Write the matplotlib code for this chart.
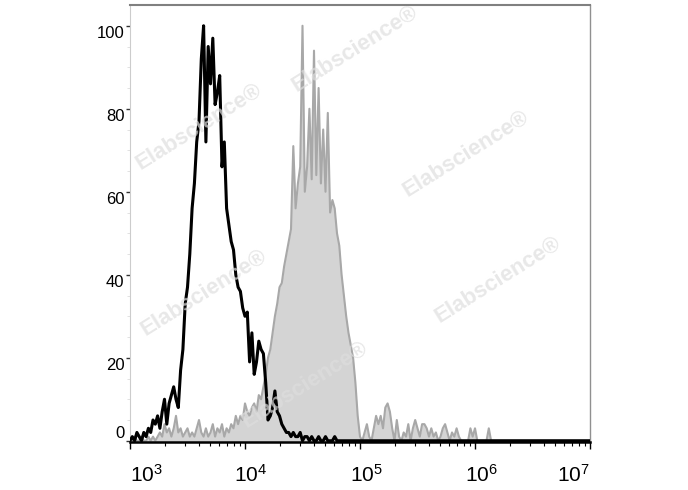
import matplotlib
matplotlib.use("Agg")
import matplotlib.pyplot as plt
import matplotlib.transforms as mtransforms
from matplotlib.ticker import FixedLocator, NullFormatter
import numpy as np

plt.rcParams['font.family'] = ['Liberation Sans', 'DejaVu Sans']
plt.rcParams['mathtext.default'] = 'regular'

# channel bins: log10 position of first bin and width of a bin (decades)
log_start = 3.0
log_step = 0.02
n_bins = 201

# isotype control (black line), counts normalised to mode = 100
black = [0, 1, 0, 2, 1, 0, 2, 1, 3, 2,
         5, 4, 6, 3, 7, 10, 4, 9, 11, 13,
         10, 8, 17, 22, 33, 37, 45, 56, 62, 72,
         77, 92, 100, 72, 95, 86, 97, 81, 84, 88,
         66, 72, 56, 52, 48, 46, 40, 37, 36, 32,
         30, 31, 19, 26, 16, 19, 24, 22, 21, 14,
         5, 6, 8, 12, 7, 6, 4, 3, 2, 2,
         1, 2, 1, 1, 2, 0, 1, 1, 0, 1,
         0, 0, 1, 0, 0, 1, 0, 0, 0, 1, 0]

# stained sample (grey filled)
grey = [0, 0, 1, 0, 0, 1, 0, 0, 1, 0,
        1, 0, 1, 2, 1, 4, 2, 3, 1, 3,
        6, 2, 3, 1, 2, 3, 1, 2, 1, 3,
        5, 2, 1, 3, 1, 2, 4, 1, 3, 2,
        4, 1, 3, 2, 4, 3, 6, 4, 6, 5,
        9, 7, 6, 8, 9, 7, 11, 10, 13, 16,
        20, 22, 26, 30, 33, 37, 38, 42, 45, 48,
        51, 71, 56, 62, 66, 100, 60, 66, 80, 63,
        94, 64, 85, 62, 75, 60, 79, 55, 58, 56,
        50, 47, 40, 35, 30, 26, 23, 20, 14, 6,
        1, 0, 2, 4, 1, 0, 3, 6, 4, 6,
        3, 8, 9, 7, 3, 0, 5, 1, 0, 2,
        1, 4, 0, 3, 5, 3, 1, 4, 4, 3,
        1, 3, 1, 2, 0, 1, 3, 4, 2, 0,
        2, 1, 3, 1, 0, 0, 0, 0, 3, 1,
        3, 0, 0, 0, 0, 0, 3, 0]

xtick_vals = [1e3, 1e4, 1e5, 1e6, 1e7]
xtick_labels = ['$10^{3}$', '$10^{4}$', '$10^{5}$', '$10^{6}$', '$10^{7}$']
ytick_vals = [0, 20, 40, 60, 80, 100]

# watermark positions (axes fraction)
wm_pos = [(0.49, 0.90), (0.15, 0.72), (0.73, 0.66), (0.16, 0.34), (0.80, 0.37), (0.38, 0.13)]

black_full = np.zeros(n_bins)
black_full[:len(black)] = black
grey_full = np.zeros(n_bins)
grey_full[:len(grey)] = grey
x = 10 ** (log_start + log_step * np.arange(n_bins))

fig = plt.figure(figsize=(6.88, 4.9), dpi=100)
ax = fig.add_axes([130/688, 1 - 442/490, 460/688, 437/490])

ax.fill_between(x, grey_full, -1, color='#d4d4d4', lw=0, zorder=1)
ax.plot(x, grey_full, color='#a8a8a8', lw=1.5, zorder=2)
ax.plot(x, black_full, color='black', lw=2.2, zorder=3)

for (px, py) in wm_pos:
    ax.text(px, py, 'Elabscience\u00ae', transform=ax.transAxes, rotation=32,
            fontsize=16, fontweight='bold', color='#dedede', alpha=0.7,
            ha='center', va='center', zorder=4)

ax.set_xscale('log')
ax.set_xlim(1e3, 1e7)
ax.set_ylim(-0.3, 105)

ax.set_xticks(xtick_vals)
ax.set_xticklabels(xtick_labels, fontsize=15)
ax.xaxis.set_minor_locator(FixedLocator([m * 10**d for d in range(3, 7) for m in range(2, 10)]))
ax.xaxis.set_minor_formatter(NullFormatter())
ax.tick_params(axis='x', which='major', length=5, width=1, direction='out', pad=11)
ax.tick_params(axis='x', which='minor', length=3, width=0.8, direction='out')

ax.set_yticks(ytick_vals)
ax.set_yticklabels([str(v) for v in ytick_vals], fontsize=12)
ax.yaxis.set_minor_locator(FixedLocator(list(range(5, 105, 5))))
ax.tick_params(axis='y', which='major', length=3, width=1, direction='out', pad=1, color='#333333')
ax.tick_params(axis='y', which='minor', length=2, width=0.6, direction='out', color='#dddddd')

for lab in ax.get_yticklabels():
    lab.set_va('top')
ax.get_yticklabels()[0].set_va('bottom')

xlabs = ax.get_xticklabels()
shift = mtransforms.ScaledTranslation(6/100, 0, fig.dpi_scale_trans)
for lab in xlabs[1:-1]:
    lab.set_transform(lab.get_transform() + shift)
xlabs[0].set_ha('left')
xlabs[-1].set_ha('right')

ax.spines['bottom'].set_color('black')
ax.spines['bottom'].set_linewidth(1.8)
ax.spines['bottom'].set_zorder(5)
ax.spines['top'].set_color('#808080')
ax.spines['top'].set_linewidth(1.5)
ax.spines['right'].set_color('#909090')
ax.spines['right'].set_linewidth(1.0)
ax.spines['left'].set_color('#cccccc')
ax.spines['left'].set_linewidth(0.8)

fig.savefig('out.png', dpi=100)
